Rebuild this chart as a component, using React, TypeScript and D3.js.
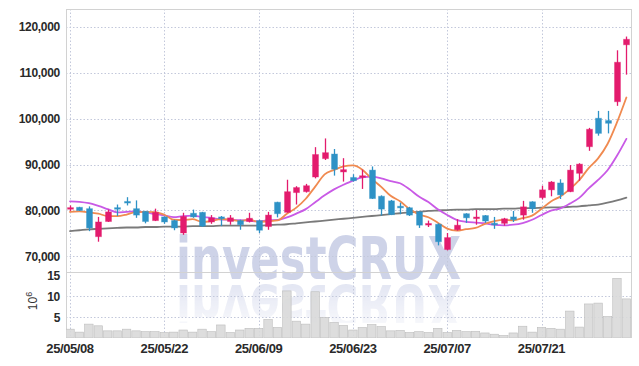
import React from 'react';
import * as d3 from 'd3';

const dates = [
  '25/05/08','25/05/09','25/05/12','25/05/13','25/05/14','25/05/15','25/05/16','25/05/19','25/05/20','25/05/21',
  '25/05/22','25/05/23','25/05/26','25/05/27','25/05/28','25/05/29','25/05/30','25/06/02','25/06/04','25/06/05',
  '25/06/09','25/06/10','25/06/11','25/06/12','25/06/13','25/06/16','25/06/17','25/06/18','25/06/19','25/06/20',
  '25/06/23','25/06/24','25/06/25','25/06/26','25/06/27','25/06/30','25/07/01','25/07/02','25/07/03','25/07/04',
  '25/07/07','25/07/08','25/07/09','25/07/10','25/07/11','25/07/14','25/07/15','25/07/16','25/07/17','25/07/18',
  '25/07/21','25/07/22','25/07/23','25/07/24','25/07/25','25/07/28','25/07/29','25/07/30','25/07/31','25/08/01',
];

const opens = [
  80300, 80700, 80400, 74300, 77600, 80500, 81900, 80400, 79800, 77800,
  78600, 77800, 75100, 79400, 79600, 77500, 78600, 77600, 77800, 77600,
  77800, 76500, 81800, 79600, 83900, 84100, 87300, 91300, 92300, 88400,
  87200, 87300, 88800, 83100, 82100, 80900, 80600, 79700, 76900, 77000,
  71500, 75800, 79300, 78300, 78900, 77100, 77200, 78600, 79000, 81900,
  82800, 84500, 86000, 84100, 88100, 93900, 100100, 99600, 103700, 116100,
];
const highs = [
  81100, 80800, 80900, 78600, 80200, 81300, 82900, 82200, 79900, 80400,
  78700, 78000, 79500, 80200, 79700, 79000, 78800, 79000, 78000, 79500,
  78000, 79700, 81900, 86700, 85300, 85800, 93800, 95700, 93400, 91400,
  87900, 88900, 89600, 83300, 82300, 81700, 80800, 79900, 77800, 77200,
  75100, 78100, 79400, 80100, 79000, 78600, 78400, 79900, 82100, 82000,
  85400, 86400, 86800, 89900, 90300, 98000, 101700, 101700, 114900, 117900,
];
const lows = [
  79900, 79900, 75500, 73200, 77500, 78800, 81100, 78400, 77200, 77700,
  77100, 75700, 74700, 78400, 76400, 77100, 76600, 76900, 75800, 77400,
  75100, 75800, 78500, 79500, 81300, 83900, 87000, 91000, 87600, 86300,
  86300, 84700, 82500, 78900, 79000, 79200, 78800, 76200, 76400, 72400,
  71300, 75600, 77300, 76900, 77300, 76000, 76700, 77500, 78000, 79500,
  82400, 83100, 82500, 84000, 86500, 93000, 96300, 96800, 102800, 109600,
];
const closes = [
  80600, 80000, 76200, 77500, 79700, 80400, 81700, 79000, 77600, 79600,
  77500, 76200, 78700, 78600, 76600, 78400, 78200, 78400, 76900, 78300,
  75700, 79000, 79300, 84100, 85000, 85400, 92200, 92600, 89000, 88900,
  86500, 87500, 82600, 80300, 79100, 80600, 79000, 76800, 77100, 73200,
  74100, 76800, 78400, 78500, 77700, 77000, 78200, 78000, 80800, 80400,
  84500, 86200, 83400, 88800, 90100, 97700, 96800, 99000, 112300, 117300,
];
// volume in millions of shares
const volumes = [
  2.1, 1.4, 3.3, 2.9, 1.7, 1.7, 2.1, 1.7, 1.5, 1.5,
  1.3, 1.4, 1.9, 1.4, 2.1, 1.5, 3.1, 1.3, 1.9, 2.3,
  2.3, 4.4, 2.5, 11.2, 4.0, 3.3, 11.0, 4.9, 3.7, 3.0,
  1.9, 2.5, 3.2, 2.7, 1.7, 1.8, 1.3, 1.5, 1.3, 2.3,
  1.3, 1.8, 1.5, 1.6, 1.2, 0.9, 0.6, 1.2, 2.8, 1.4,
  2.5, 2.3, 2.1, 6.4, 2.6, 8.1, 8.3, 5.1, 14.2, 9.3,
];
const ma5 = [
  79700, 79800, 79600, 79300, 78800, 78760, 79100, 79660, 79680, 79660,
  79080, 77980, 77920, 78120, 77520, 77700, 78100, 78040, 77700, 78040,
  77500, 77660, 77840, 79280, 80620, 82560, 85200, 87860, 88840, 89620,
  89840, 88900, 86900, 85160, 83200, 82020, 80320, 79160, 78520, 77340,
  76040, 75600, 75920, 76200, 77100, 77680, 77960, 77880, 78340, 78880,
  80380, 81980, 83060, 84660, 86600, 89240, 91360, 94480, 99180, 104620,
];
const ma10 = [
  82000, 81900, 81600, 81000, 80300, 79600, 79700, 79800, 79600, 79230,
  78920, 78540, 78790, 78900, 78590, 78390, 78040, 77980, 77910, 77780,
  77600, 77880, 77940, 78490, 79330, 80300, 81800, 83300, 84600, 85600,
  86500, 87200, 87380, 87000, 86410, 85930, 84610, 83030, 81840, 80270,
  79030, 77960, 77540, 77360, 77220, 76860, 76780, 76900, 77270, 77990,
  79030, 79970, 80470, 81500, 82740, 84810, 86670, 88770, 91920, 95610,
];
const ma60 = [
  75500, 75700, 75900, 76000, 76100, 76200, 76300, 76300, 76400, 76400,
  76500, 76500, 76500, 76600, 76600, 76600, 76700, 76700, 76700, 76700,
  76700, 76800, 76900, 77000, 77200, 77400, 77600, 77800, 78000, 78200,
  78400, 78600, 78800, 79000, 79200, 79400, 79600, 79700, 79900, 80000,
  80100, 80200, 80200, 80300, 80300, 80300, 80400, 80400, 80500, 80500,
  80600, 80700, 80700, 80800, 80900, 81100, 81300, 81700, 82200, 82800,
];
const tickDates = ['25/05/08', '25/05/22', '25/06/09', '25/06/23', '25/07/07', '25/07/21'];
const priceTicks = [70000, 80000, 90000, 100000, 110000, 120000];
const volumeTicks = [5, 10, 15];

const UP = '#e31b6d';
const DOWN = '#2e92c6';
const GRID = '#c3c8db';
const FONT = '"Liberation Sans", Arial, sans-serif';

export default function App() {
  const left = 66, right = 631, top = 9, priceBottom = 272, volBottom = 338;
  const x = d3.scaleBand<string>().domain(dates).range([65.3, 631.1]);
  const bw = x.bandwidth();
  const cx = (d: string) => (x(d) as number) + bw / 2;
  const y = d3.scaleLinear().domain([66600, 123900]).range([priceBottom, top]);
  const yv = d3.scaleLinear().domain([0, 15.7]).range([volBottom, priceBottom]);
  const fmt = d3.format(',');
  const mkLine = (arr: number[]) =>
    d3.line<number>().x((_, i) => cx(dates[i])).y((v) => y(v)).curve(d3.curveMonotoneX)(arr) || '';

  const bodyW = 6;

  return (
    <div style={{ position: 'absolute', left: 0, top: 0 }}>
      <svg width={639} height={366} style={{ display: 'block', background: '#fff' }}>
        <defs>
          <clipPath id="plotClip">
            <rect x={left} y={top} width={right - left} height={volBottom - top} />
          </clipPath>
          <linearGradient id="reflFade" x1="0" y1="0" x2="0" y2="1">
            <stop offset="0" stopColor="#fff" stopOpacity="1" />
            <stop offset="1" stopColor="#fff" stopOpacity="0.3" />
          </linearGradient>
          <mask id="reflMask" maskUnits="userSpaceOnUse" x="0" y="270" width="639" height="70">
            <rect x="0" y="283" width="639" height="40" fill="url(#reflFade)" />
          </mask>
        </defs>

        {/* watermark */}
        <g fontFamily='"DejaVu Sans", "Liberation Sans", sans-serif' fontWeight="bold" fontSize={58} fill="#c6cce5">
          <text x={176} y={279} textLength={285} lengthAdjust="spacingAndGlyphs" opacity={0.85}>investCRUX</text>
          <g mask="url(#reflMask)">
            <text
              x={176}
              y={279}
              textLength={285}
              lengthAdjust="spacingAndGlyphs"
              opacity={0.5}
              transform="translate(0,564) scale(1,-1)"
            >
              investCRUX
            </text>
          </g>
        </g>

        {/* grid */}
        <g stroke={GRID} strokeWidth={1} strokeDasharray="1.5,2" fill="none">
          {priceTicks.map((t) => (
            <line key={'p' + t} x1={left} x2={right} y1={Math.round(y(t)) + 0.5} y2={Math.round(y(t)) + 0.5} />
          ))}
          {volumeTicks.slice(0, 2).map((t) => (
            <line key={'v' + t} x1={left} x2={right} y1={Math.round(yv(t)) + 0.5} y2={Math.round(yv(t)) + 0.5} />
          ))}
          {tickDates.map((d) => (
            <line key={'x' + d} x1={Math.round(cx(d)) + 0.5} x2={Math.round(cx(d)) + 0.5} y1={top} y2={volBottom} />
          ))}
        </g>

        {/* frame */}
        <g stroke="#d2d2d2" strokeWidth={1} fill="none">
          <line x1={left + 0.5} x2={left + 0.5} y1={top} y2={volBottom} />
          <line x1={right + 0.5} x2={right + 0.5} y1={top} y2={volBottom} />
          <line x1={left} x2={right} y1={top + 0.5} y2={top + 0.5} />
          <line x1={left} x2={right} y1={priceBottom + 0.5} y2={priceBottom + 0.5} />
        </g>

        {/* volume */}
        <g clipPath="url(#plotClip)">
          {volumes.map((v, i) => (
            <rect
              key={'vol' + i}
              x={(x(dates[i]) as number) + 0.5}
              y={yv(v)}
              width={bw - 1}
              height={volBottom - yv(v)}
              fill="#d9d9d9"
              stroke="#bdbdbd"
              strokeWidth={0.6}
              fillOpacity={0.9}
            />
          ))}
        </g>

        {/* moving averages */}
        <g fill="none" strokeLinejoin="round" strokeLinecap="round">
          <path d={mkLine(ma60)} stroke="#7a7a7a" strokeWidth={1.8} />
          <path d={mkLine(ma10)} stroke="#c95ae6" strokeWidth={1.8} />
          <path d={mkLine(ma5)} stroke="#f08a50" strokeWidth={1.8} />
        </g>

        {/* candles */}
        <g>
          {dates.map((d, i) => {
            const o = opens[i], c = closes[i], h = highs[i], l = lows[i];
            const color = c >= o ? UP : DOWN;
            const xc = Math.round(cx(d));
            const yTop = y(Math.max(o, c));
            const yBot = y(Math.min(o, c));
            const bh = Math.max(1.6, yBot - yTop);
            return (
              <g key={'c' + i}>
                <line x1={xc + 0.5} x2={xc + 0.5} y1={y(h)} y2={y(l)} stroke={color} strokeWidth={1.3} />
                <rect
                  x={xc + 0.5 - bodyW / 2}
                  y={bh === 1.6 ? (yTop + yBot) / 2 - 0.8 : yTop}
                  width={bodyW}
                  height={bh}
                  fill={color}
                  stroke={color}
                  strokeOpacity={0.35}
                  strokeWidth={1}
                />
              </g>
            );
          })}
        </g>

        {/* y axis labels */}
        <g fontFamily={FONT} fontWeight="bold" fontSize={12} fill="#2a2a2a" textAnchor="end">
          {priceTicks.map((t) => (
            <text key={'pl' + t} x={60} y={y(t)} dy="0.36em" letterSpacing={-0.3}>
              {fmt(t)}
            </text>
          ))}
          {volumeTicks.map((t) => (
            <text key={'vl' + t} x={60} y={yv(t) + 1} dy="0.36em" letterSpacing={-0.3}>
              {t}
            </text>
          ))}
        </g>
        <text
          fontFamily={FONT}
          fontSize={12}
          fill="#333"
          transform="translate(37,301) rotate(-90)"
          textAnchor="middle"
        >
          10<tspan dy={-5} fontSize={9}>6</tspan>
        </text>

        {/* x axis labels */}
        <g fontFamily={FONT} fontWeight="bold" fontSize={13} fill="#2a2a2a" textAnchor="middle">
          {tickDates.map((d) => (
            <text key={'xl' + d} x={cx(d)} y={353} letterSpacing={-0.4}>
              {d}
            </text>
          ))}
        </g>
      </svg>
    </div>
  );
}
